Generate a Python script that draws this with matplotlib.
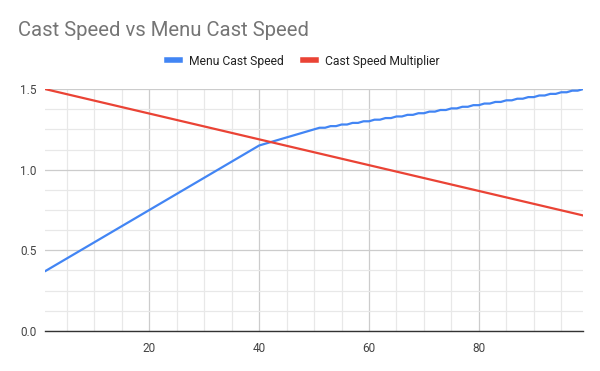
import matplotlib
matplotlib.use("Agg")
import matplotlib.pyplot as plt
from matplotlib.ticker import MultipleLocator, FixedLocator
from matplotlib.lines import Line2D

plt.rcParams['font.family'] = ['Roboto', 'DejaVu Sans']

x_values = list(range(1, 100))
menu_cast_speed = [
    0.37, 0.39, 0.41, 0.43, 0.45, 0.47, 0.49, 0.51, 0.53, 0.55,
    0.57, 0.59, 0.61, 0.63, 0.65, 0.67, 0.69, 0.71, 0.73, 0.75,
    0.77, 0.79, 0.81, 0.83, 0.85, 0.87, 0.89, 0.91, 0.93, 0.95,
    0.97, 0.99, 1.01, 1.03, 1.05, 1.07, 1.09, 1.11, 1.13, 1.15,
    1.16, 1.17, 1.18, 1.19, 1.20, 1.21, 1.22, 1.23, 1.24, 1.25,
    1.26, 1.26, 1.27, 1.27, 1.28, 1.28, 1.29, 1.29, 1.30, 1.30,
    1.31, 1.31, 1.32, 1.32, 1.33, 1.33, 1.34, 1.34, 1.35, 1.35,
    1.36, 1.36, 1.37, 1.37, 1.38, 1.38, 1.39, 1.39, 1.40, 1.40,
    1.41, 1.41, 1.42, 1.42, 1.43, 1.43, 1.44, 1.44, 1.45, 1.45,
    1.46, 1.46, 1.47, 1.47, 1.48, 1.48, 1.49, 1.49, 1.50,
]
cast_speed_multiplier = [
    1.500, 1.492, 1.484, 1.476, 1.468, 1.460, 1.452, 1.444, 1.436, 1.428,
    1.420, 1.412, 1.404, 1.396, 1.388, 1.380, 1.372, 1.364, 1.356, 1.348,
    1.340, 1.332, 1.324, 1.316, 1.308, 1.300, 1.292, 1.284, 1.276, 1.268,
    1.260, 1.252, 1.244, 1.236, 1.228, 1.220, 1.212, 1.204, 1.196, 1.188,
    1.180, 1.172, 1.164, 1.156, 1.148, 1.140, 1.132, 1.124, 1.116, 1.108,
    1.100, 1.092, 1.084, 1.076, 1.068, 1.060, 1.052, 1.044, 1.036, 1.028,
    1.020, 1.012, 1.004, 0.996, 0.988, 0.980, 0.972, 0.964, 0.956, 0.948,
    0.940, 0.932, 0.924, 0.916, 0.908, 0.900, 0.892, 0.884, 0.876, 0.868,
    0.860, 0.852, 0.844, 0.836, 0.828, 0.820, 0.812, 0.804, 0.796, 0.788,
    0.780, 0.772, 0.764, 0.756, 0.748, 0.740, 0.732, 0.724, 0.716,
]
series_names = ["Menu Cast Speed", "Cast Speed Multiplier"]
series_colors = ["#4285F4", "#EA4335"]
x_ticks = [20, 40, 60, 80]
y_ticks = [0.0, 0.5, 1.0, 1.5]

fig = plt.figure(figsize=(6, 3.71), dpi=100)
ax = fig.add_axes([0.075, 0.108, 0.897, 0.652])

ax.plot(x_values, menu_cast_speed, color=series_colors[0], lw=1.6, solid_capstyle='round', zorder=3)
ax.plot(x_values, cast_speed_multiplier, color=series_colors[1], lw=1.6, solid_capstyle='round', zorder=3)

ax.set_xlim(1, 99)
ax.set_ylim(0, 1.5)
ax.xaxis.set_major_locator(FixedLocator(x_ticks))
ax.xaxis.set_minor_locator(MultipleLocator(5))
ax.yaxis.set_major_locator(FixedLocator(y_ticks))
ax.yaxis.set_minor_locator(MultipleLocator(0.125))
ax.set_yticklabels([f"{v:.1f}" for v in y_ticks])
ax.grid(which='major', color='#cccccc', lw=0.9, zorder=0)
ax.grid(which='minor', color='#e8e8e8', lw=0.9, zorder=0)
ax.set_axisbelow(True)
for s in ['top', 'right', 'left']:
    ax.spines[s].set_visible(False)
ax.spines['bottom'].set_color('#333333')
ax.spines['bottom'].set_linewidth(1.0)
ax.tick_params(which='both', length=0, labelsize=8.5, labelcolor='#444444')
ax.tick_params(axis='x', pad=8)
ax.tick_params(axis='y', pad=6)

fig.text(18/600, 1 - 31/371, "Cast Speed vs Menu Cast Speed", fontsize=14.6,
         color='#757575', ha='left', va='center')

handles = [Line2D([], [], color=c, lw=4) for c in series_colors]
fig.legend(handles, series_names, loc='center', bbox_to_anchor=(0.505, 1 - 61/371),
           ncol=2, frameon=False, fontsize=8.7, handlelength=1.1,
           columnspacing=1.6, handletextpad=0.7, labelcolor='#222222')

fig.savefig("out.png", dpi=100, facecolor='white')
